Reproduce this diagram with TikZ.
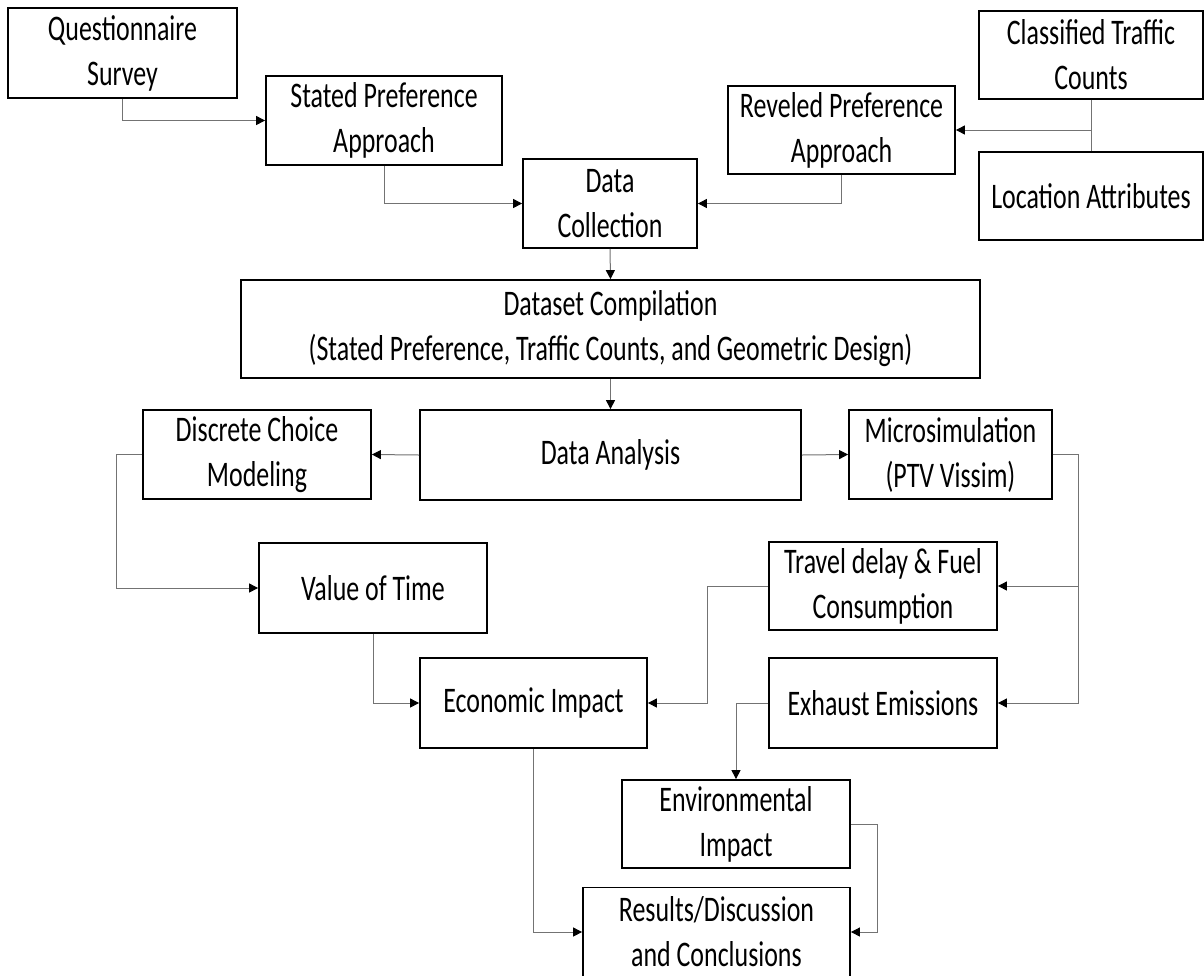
\documentclass[tikz,border=0pt]{standalone}
\usepackage{fontspec}
\setmainfont{Carlito}[FakeStretch=0.72]
\usetikzlibrary{arrows.meta}
\begin{document}
\begin{tikzpicture}[x=1pt,y=-1pt,
  box/.style={draw=black, line width=1.8pt, inner sep=0pt, align=center,
    font=\fontsize{36}{45}\selectfont},
  conn/.style={draw=black!55, line width=1pt},
  arr/.style={conn, -{Triangle[length=9pt,width=9pt,color=black]}}]
\fill[white] (0,0) rectangle (1204,975);
\useasboundingbox (0,0) rectangle (1204,975);
% boxes
\node[box, minimum width=229pt, minimum height=90pt] (Q) at (122.5,53) {Questionnaire\\Survey};
\node[box, minimum width=236pt, minimum height=89pt] (SP) at (384,120.5) {Stated Preference\\Approach};
\node[box, minimum width=174pt, minimum height=89pt] (DC) at (610,203.5) {Data\\Collection};
\node[box, minimum width=227pt, minimum height=88pt] (RP) at (841.5,130) {Reveled Preference\\Approach};
\node[box, minimum width=224pt, minimum height=88pt] (CT) at (1091,55) {Classified Traffic\\Counts};
\node[box, minimum width=224pt, minimum height=88pt] (LA) at (1091,196) {Location Attributes};
\node[box, minimum width=739pt, minimum height=98pt] (DS) at (610.5,329) {Dataset Compilation\\(Stated Preference, Traffic Counts, and Geometric Design)};
\node[box, minimum width=228pt, minimum height=89pt] (DCM) at (257,454.5) {Discrete Choice\\Modeling};
\node[box, minimum width=381pt, minimum height=90pt] (DA) at (610.5,455) {Data Analysis};
\node[box, minimum width=203pt, minimum height=89pt] (MS) at (950.5,454.5) {Microsimulation\\(PTV Vissim)};
\node[box, minimum width=228pt, minimum height=90pt] (VT) at (373,588) {Value of Time};
\node[box, minimum width=228pt, minimum height=88pt] (TD) at (883,586) {Travel delay \& Fuel\\Consumption};
\node[box, minimum width=227pt, minimum height=90pt] (EI) at (533.5,703) {Economic Impact};
\node[box, minimum width=228pt, minimum height=90pt] (EE) at (883,703) {Exhaust Emissions};
\node[box, minimum width=228pt, minimum height=88pt] (ENV) at (736,824) {Environmental\\Impact};
\node[box, minimum width=267pt, minimum height=89pt] (RES) at (716.5,932) {Results/Discussion\\and Conclusions};
% connectors
\draw[arr] (Q.south) |- (SP.west);
\draw[arr] (SP.south) |- (DC.west);
\draw[arr] (RP.south) |- (DC.east);
\draw[conn] (CT.south) -- (LA.north);
\draw[arr] (CT.south |- RP.east) -- (RP.east);
\draw[arr] (DC.south) -- (DS.north);
\draw[arr] (DS.south) -- (DA.north);
\draw[arr] (DA.west) -- (DCM.east);
\draw[arr] (DA.east) -- (MS.west);
\draw[arr] (DCM.west) -- ++(-26,0) |- (VT.west);
\draw[arr] (MS.east) -- ++(26,0) |- (TD.east);
\draw[arr] (MS.east) -- ++(26,0) |- (EE.east);
\draw[arr] (VT.south) |- (EI.west);
\draw[arr] (TD.west) -- ++(-61,0) |- (EI.east);
\draw[arr] (EE.west) -| (ENV.north);
\draw[arr] (EI.south) |- (RES.west);
\draw[arr] (ENV.east) -- ++(27,0) |- (RES.east);
\end{tikzpicture}
\end{document}
